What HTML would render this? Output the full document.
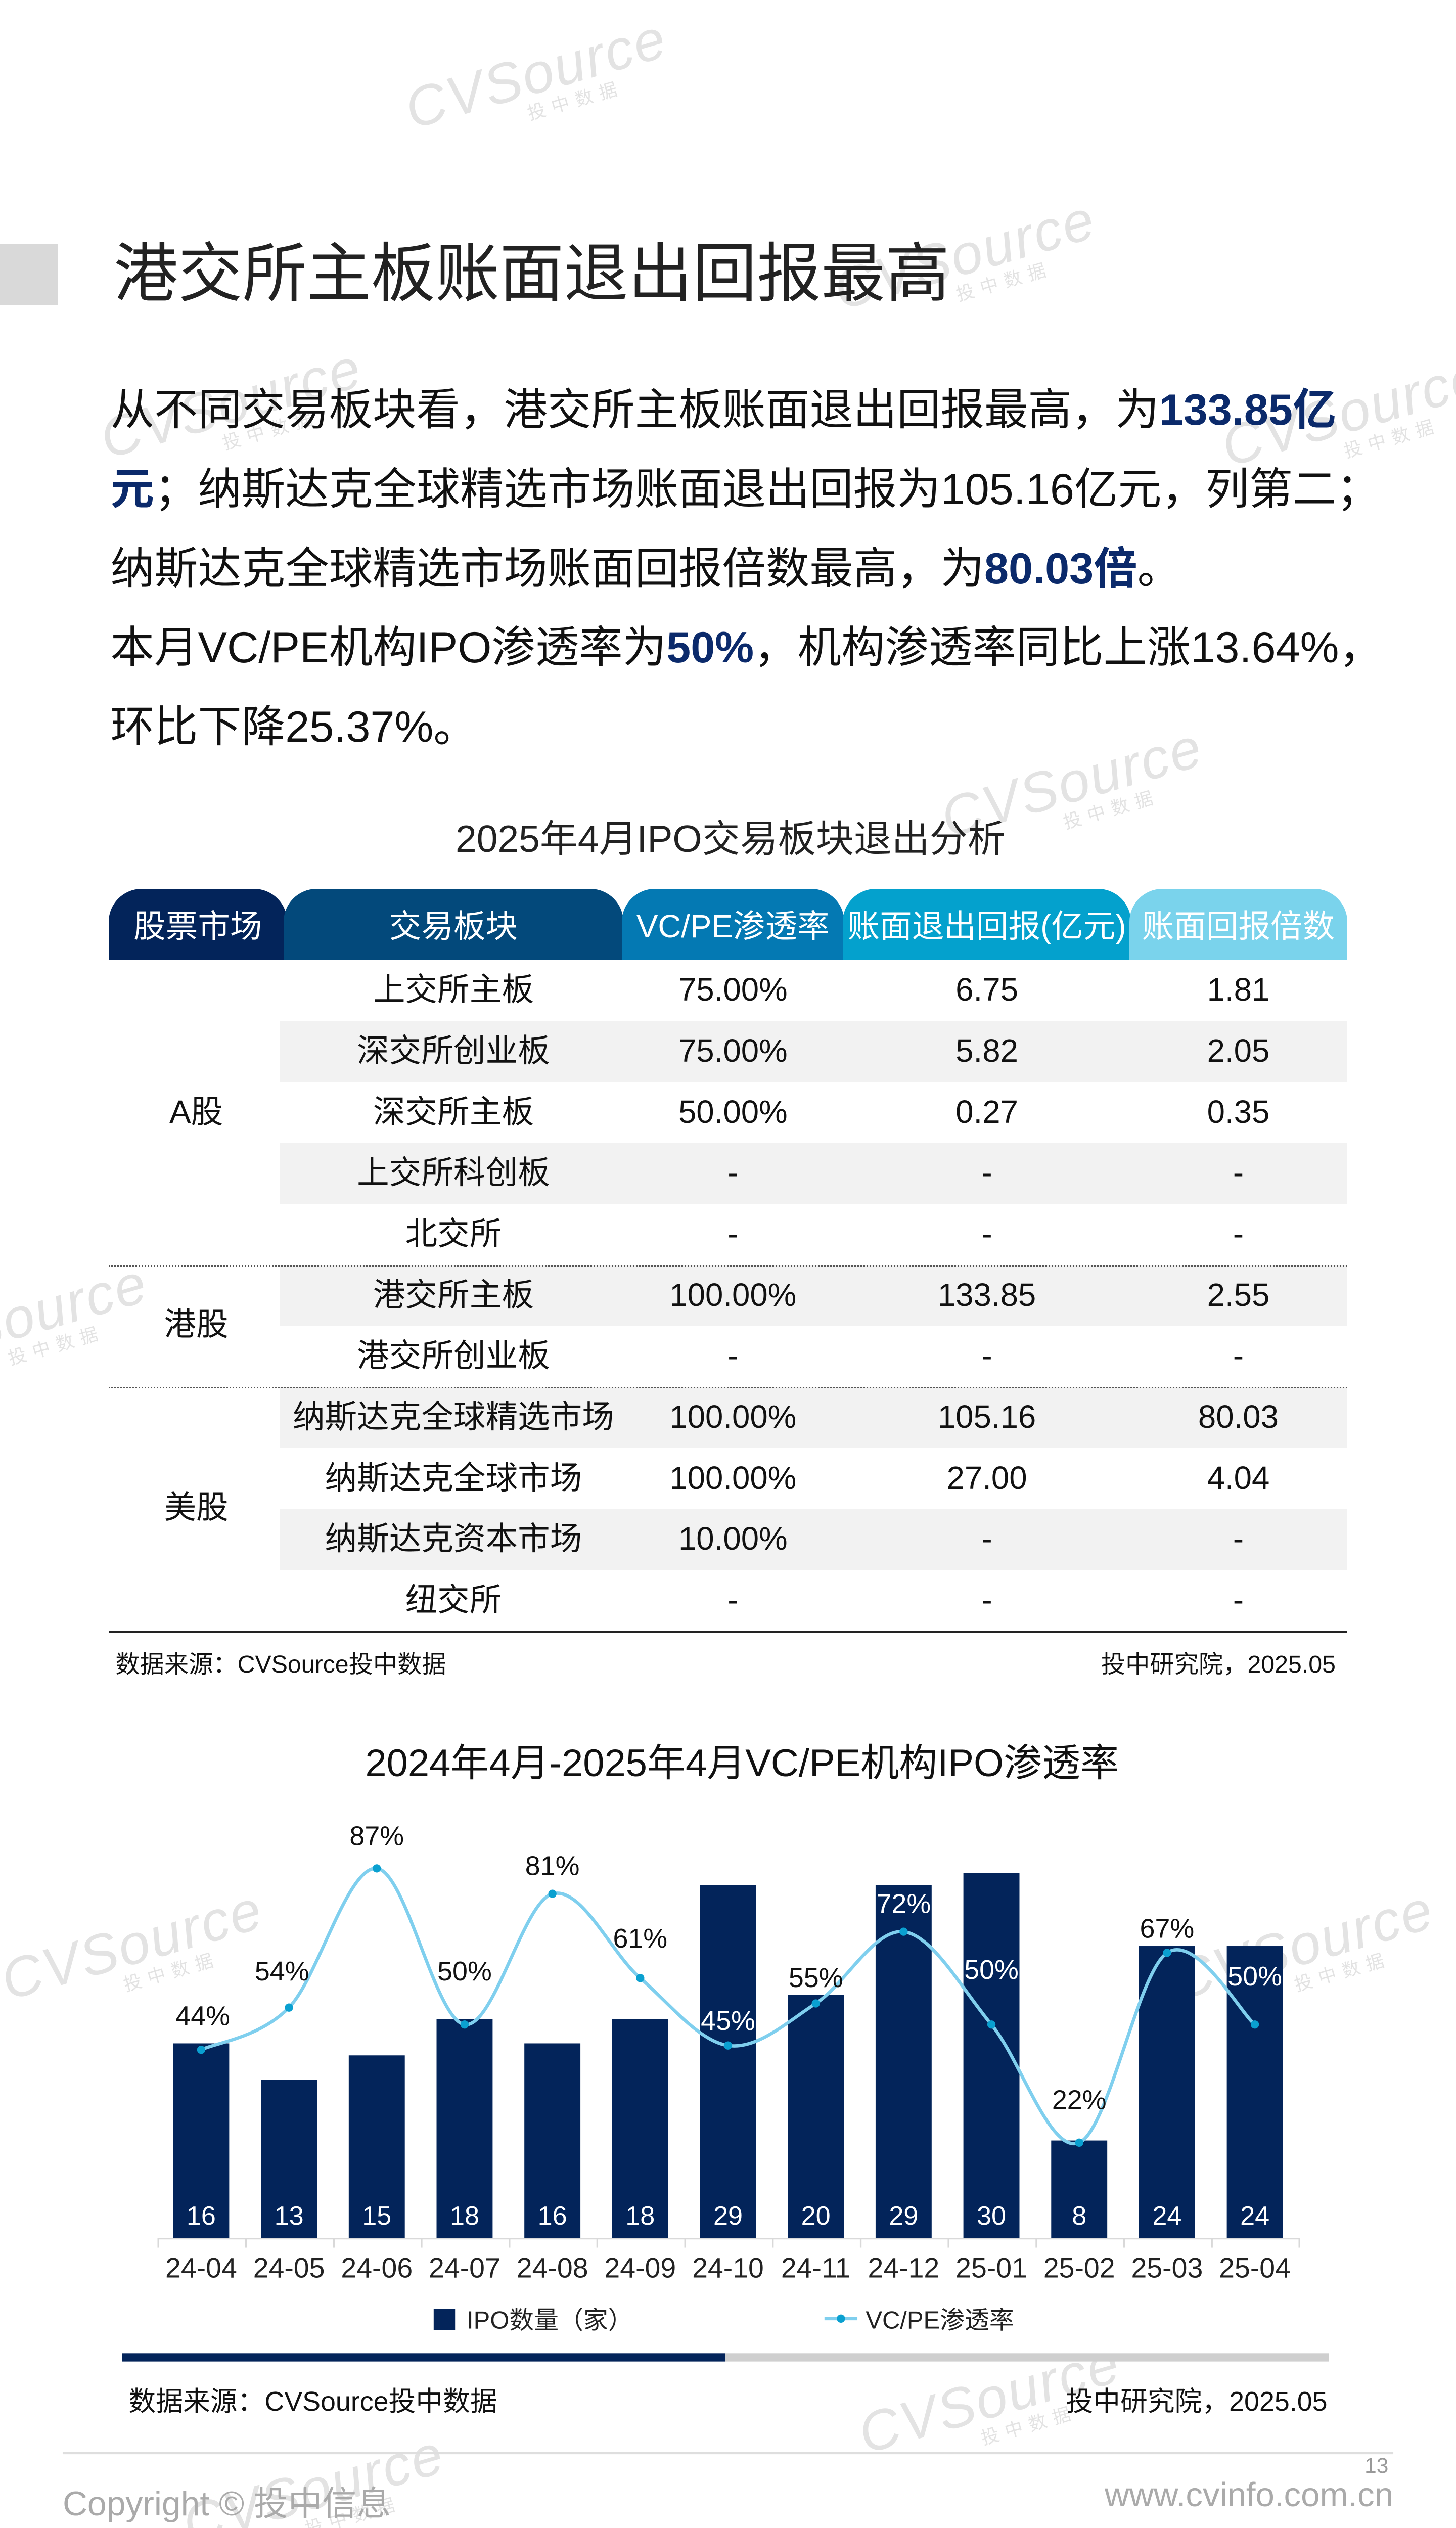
<!DOCTYPE html>
<html><head><meta charset="utf-8">
<style>
html{margin:0;padding:0;width:2880px;height:5118px;overflow:hidden;}
body{margin:0;padding:0;background:#fff;width:2880px;height:5118px;overflow:hidden;position:relative;}
#p{position:absolute;left:0;top:0;width:883px;height:1568px;overflow:hidden;zoom:3.26161;font-family:"Liberation Sans","Noto Sans CJK SC",sans-serif;color:#111;}
.a{position:absolute;white-space:nowrap;}
.hl{color:#0b2a6b;font-weight:bold;}
.para{font-size:26.5px;left:67px;}
.th{position:absolute;top:539px;height:43px;border-radius:20px 20px 0 0;color:#fff;font-size:19.5px;line-height:46px;text-align:center;white-space:nowrap;}
.row{position:absolute;left:170px;width:647px;height:37px;}
.sh{background:#f2f2f2;}
.c{position:absolute;font-size:19.5px;text-align:center;line-height:37px;height:37px;white-space:nowrap;}
.wm{position:absolute;color:#e3e3e3;font-size:34px;font-style:italic;transform:rotate(-16deg);white-space:nowrap;letter-spacing:1px;}
.wm span{display:block;font-size:11px;margin-left:70px;margin-top:-6px;font-style:normal;letter-spacing:4px;}
</style></head><body><div id="p">

<div class="wm" style="left:245px;top:25px;">CVSource<span>投中数据</span></div>
<div class="wm" style="left:505px;top:135px;">CVSource<span>投中数据</span></div>
<div class="wm" style="left:60px;top:225px;">CVSource<span>投中数据</span></div>
<div class="wm" style="left:740px;top:230px;">CVSource<span>投中数据</span></div>
<div class="wm" style="left:570px;top:455px;">CVSource<span>投中数据</span></div>
<div class="wm" style="left:-70px;top:780px;">CVSource<span>投中数据</span></div>
<div class="wm" style="left:0px;top:1160px;">CVSource<span>投中数据</span></div>
<div class="wm" style="left:710px;top:1160px;">CVSource<span>投中数据</span></div>
<div class="wm" style="left:520px;top:1435px;">CVSource<span>投中数据</span></div>
<div class="wm" style="left:110px;top:1490px;">CVSource<span>投中数据</span></div>

<div class="a" style="left:0;top:148px;width:35px;height:37px;background:#d9d9d9;"></div>
<div class="a" style="left:69px;top:141px;font-size:39px;color:#222;line-height:50px;">港交所主板账面退出回报最高</div>

<div class="a para" style="top:227px;">从不同交易板块看，港交所主板账面退出回报最高，为<span class="hl">133.85亿</span></div>
<div class="a para" style="top:275px;"><span class="hl">元</span>；纳斯达克全球精选市场账面退出回报为105.16亿元，列第二；</div>
<div class="a para" style="top:323px;">纳斯达克全球精选市场账面回报倍数最高，为<span class="hl">80.03倍</span>。</div>
<div class="a para" style="top:371px;">本月VC/PE机构IPO渗透率为<span class="hl">50%</span>，机构渗透率同比上涨13.64%，</div>
<div class="a para" style="top:419px;">环比下降25.37%。</div>

<div class="a" style="left:0;width:886px;text-align:center;top:490px;font-size:23px;color:#222;">2025年4月IPO交易板块退出分析</div>

<div class="th" style="left:66px;width:108px;background:#03245a;">股票市场</div>
<div class="th" style="left:172px;width:206px;background:#03497b;">交易板块</div>
<div class="th" style="left:377px;width:135px;background:#0479b3;">VC/PE渗透率</div>
<div class="th" style="left:511px;width:175px;background:#04a1cd;">账面退出回报(亿元)</div>
<div class="th" style="left:685px;width:132px;background:#7ad3ec;">账面回报倍数</div>

<div class="row sh" style="top:619px;"></div>
<div class="row sh" style="top:693px;"></div>
<div class="row sh" style="top:767px;"></div>
<div class="row sh" style="top:841px;"></div>
<div class="row sh" style="top:915px;"></div>
<div class="a" style="left:66px;top:767px;width:751px;border-top:1px dotted #555;"></div>
<div class="a" style="left:66px;top:841px;width:751px;border-top:1px dotted #555;"></div>
<div class="a" style="left:66px;top:989px;width:751px;border-top:1.5px solid #222;"></div>

<div class="c" style="left:66px;width:106px;top:656px;">A股</div>
<div class="c" style="left:66px;width:106px;top:785px;">港股</div>
<div class="c" style="left:66px;width:106px;top:896px;">美股</div>

<div class="c" style="left:172px;width:206px;top:582px;">上交所主板</div><div class="c" style="left:377px;width:135px;top:582px;">75.00%</div><div class="c" style="left:511px;width:175px;top:582px;">6.75</div><div class="c" style="left:685px;width:132px;top:582px;">1.81</div>
<div class="c" style="left:172px;width:206px;top:619px;">深交所创业板</div><div class="c" style="left:377px;width:135px;top:619px;">75.00%</div><div class="c" style="left:511px;width:175px;top:619px;">5.82</div><div class="c" style="left:685px;width:132px;top:619px;">2.05</div>
<div class="c" style="left:172px;width:206px;top:656px;">深交所主板</div><div class="c" style="left:377px;width:135px;top:656px;">50.00%</div><div class="c" style="left:511px;width:175px;top:656px;">0.27</div><div class="c" style="left:685px;width:132px;top:656px;">0.35</div>
<div class="c" style="left:172px;width:206px;top:693px;">上交所科创板</div><div class="c" style="left:377px;width:135px;top:693px;">-</div><div class="c" style="left:511px;width:175px;top:693px;">-</div><div class="c" style="left:685px;width:132px;top:693px;">-</div>
<div class="c" style="left:172px;width:206px;top:730px;">北交所</div><div class="c" style="left:377px;width:135px;top:730px;">-</div><div class="c" style="left:511px;width:175px;top:730px;">-</div><div class="c" style="left:685px;width:132px;top:730px;">-</div>
<div class="c" style="left:172px;width:206px;top:767px;">港交所主板</div><div class="c" style="left:377px;width:135px;top:767px;">100.00%</div><div class="c" style="left:511px;width:175px;top:767px;">133.85</div><div class="c" style="left:685px;width:132px;top:767px;">2.55</div>
<div class="c" style="left:172px;width:206px;top:804px;">港交所创业板</div><div class="c" style="left:377px;width:135px;top:804px;">-</div><div class="c" style="left:511px;width:175px;top:804px;">-</div><div class="c" style="left:685px;width:132px;top:804px;">-</div>
<div class="c" style="left:172px;width:206px;top:841px;">纳斯达克全球精选市场</div><div class="c" style="left:377px;width:135px;top:841px;">100.00%</div><div class="c" style="left:511px;width:175px;top:841px;">105.16</div><div class="c" style="left:685px;width:132px;top:841px;">80.03</div>
<div class="c" style="left:172px;width:206px;top:878px;">纳斯达克全球市场</div><div class="c" style="left:377px;width:135px;top:878px;">100.00%</div><div class="c" style="left:511px;width:175px;top:878px;">27.00</div><div class="c" style="left:685px;width:132px;top:878px;">4.04</div>
<div class="c" style="left:172px;width:206px;top:915px;">纳斯达克资本市场</div><div class="c" style="left:377px;width:135px;top:915px;">10.00%</div><div class="c" style="left:511px;width:175px;top:915px;">-</div><div class="c" style="left:685px;width:132px;top:915px;">-</div>
<div class="c" style="left:172px;width:206px;top:952px;">纽交所</div><div class="c" style="left:377px;width:135px;top:952px;">-</div><div class="c" style="left:511px;width:175px;top:952px;">-</div><div class="c" style="left:685px;width:132px;top:952px;">-</div>

<div class="a" style="left:70px;top:997px;font-size:14.8px;">数据来源：CVSource投中数据</div>
<div class="a" style="right:73px;top:997px;font-size:14.8px;">投中研究院，2025.05</div>

<div class="a" style="left:0;width:900px;text-align:center;top:1050px;font-size:23.3px;color:#111;">2024年4月-2025年4月VC/PE机构IPO渗透率</div>

<svg class="a" style="left:0;top:0;" width="883" height="1560" viewBox="0 0 883 1560" font-family="Liberation Sans, Noto Sans CJK SC, sans-serif">
<g fill="#03245a">
<rect x="105" y="1239.1" width="34" height="117.9"/>
<rect x="158.25" y="1261.2" width="34" height="95.8"/>
<rect x="211.5" y="1246.4" width="34" height="110.6"/>
<rect x="264.75" y="1224.3" width="34" height="132.7"/>
<rect x="318" y="1239.1" width="34" height="117.9"/>
<rect x="371.25" y="1224.3" width="34" height="132.7"/>
<rect x="424.5" y="1143.3" width="34" height="213.7"/>
<rect x="477.75" y="1209.6" width="34" height="147.4"/>
<rect x="531" y="1143.3" width="34" height="213.7"/>
<rect x="584.25" y="1135.9" width="34" height="221.1"/>
<rect x="637.5" y="1298" width="34" height="59"/>
<rect x="690.75" y="1180.1" width="34" height="176.9"/>
<rect x="744" y="1180.1" width="34" height="176.9"/>
</g>
<g fill="#fff" font-size="16" text-anchor="middle">
<text x="122" y="1349">16</text><text x="175.25" y="1349">13</text><text x="228.5" y="1349">15</text><text x="281.75" y="1349">18</text><text x="335" y="1349">16</text><text x="388.25" y="1349">18</text><text x="441.5" y="1349">29</text><text x="494.75" y="1349">20</text><text x="548" y="1349">29</text><text x="601.25" y="1349">30</text><text x="654.5" y="1349">8</text><text x="707.75" y="1349">24</text><text x="761" y="1349">24</text>
</g>
<line x1="96" y1="1357.5" x2="788" y2="1357.5" stroke="#d9d9d9" stroke-width="1"/>
<g stroke="#d9d9d9" stroke-width="1">
<line x1="96" y1="1357" x2="96" y2="1363"/><line x1="149.2" y1="1357" x2="149.2" y2="1363"/><line x1="202.5" y1="1357" x2="202.5" y2="1363"/><line x1="255.7" y1="1357" x2="255.7" y2="1363"/><line x1="309" y1="1357" x2="309" y2="1363"/><line x1="362.2" y1="1357" x2="362.2" y2="1363"/><line x1="415.5" y1="1357" x2="415.5" y2="1363"/><line x1="468.7" y1="1357" x2="468.7" y2="1363"/><line x1="522" y1="1357" x2="522" y2="1363"/><line x1="575.2" y1="1357" x2="575.2" y2="1363"/><line x1="628.5" y1="1357" x2="628.5" y2="1363"/><line x1="681.7" y1="1357" x2="681.7" y2="1363"/><line x1="735" y1="1357" x2="735" y2="1363"/><line x1="788" y1="1357" x2="788" y2="1363"/>
</g>
<g fill="#222" font-size="17" text-anchor="middle">
<text x="122" y="1381">24-04</text><text x="175.25" y="1381">24-05</text><text x="228.5" y="1381">24-06</text><text x="281.75" y="1381">24-07</text><text x="335" y="1381">24-08</text><text x="388.25" y="1381">24-09</text><text x="441.5" y="1381">24-10</text><text x="494.75" y="1381">24-11</text><text x="548" y="1381">24-12</text><text x="601.25" y="1381">25-01</text><text x="654.5" y="1381">25-02</text><text x="707.75" y="1381">25-03</text><text x="761" y="1381">25-04</text>
</g>
<path fill="none" stroke="#7fcfee" stroke-width="2" d="M122,1243 C130.9,1238.7 157.5,1235.7 175.25,1217.4 C193,1199.1 210.75,1131.3 228.5,1133 C246.25,1134.7 264,1225.1 281.75,1227.7 C299.5,1230.3 317.25,1153.1 335,1148.4 C352.75,1143.7 370.5,1184.2 388.25,1199.5 C406,1214.8 423.75,1237.8 441.5,1240.4 C459.25,1243 477,1226.4 494.75,1214.9 C512.5,1203.4 530.25,1169.3 548,1171.4 C565.75,1173.5 583.5,1206.4 601.25,1227.7 C619,1249 636.75,1306.6 654.5,1299.3 C672.25,1292 690,1196.1 707.75,1184.2 C725.5,1172.3 752.1,1220.45 761,1227.7"/>
<g fill="#0aa0d0">
<circle cx="122" cy="1243" r="2.5"/><circle cx="175.25" cy="1217.4" r="2.5"/><circle cx="228.5" cy="1133" r="2.5"/><circle cx="281.75" cy="1227.7" r="2.5"/><circle cx="335" cy="1148.4" r="2.5"/><circle cx="388.25" cy="1199.5" r="2.5"/><circle cx="441.5" cy="1240.4" r="2.5"/><circle cx="494.75" cy="1214.9" r="2.5"/><circle cx="548" cy="1171.4" r="2.5"/><circle cx="601.25" cy="1227.7" r="2.5"/><circle cx="654.5" cy="1299.3" r="2.5"/><circle cx="707.75" cy="1184.2" r="2.5"/><circle cx="761" cy="1227.7" r="2.5"/>
</g>
<g fill="#111" font-size="16.5" text-anchor="middle">
<text x="123" y="1228">44%</text><text x="171" y="1201">54%</text><text x="228.5" y="1119">87%</text><text x="281.75" y="1201">50%</text><text x="335" y="1137">81%</text><text x="388.25" y="1181">61%</text><text x="494.75" y="1205">55%</text><text x="654.5" y="1279">22%</text><text x="707.75" y="1175">67%</text>
</g>
<g fill="#fff" font-size="16.5" text-anchor="middle">
<text x="441.5" y="1231">45%</text><text x="548" y="1160">72%</text><text x="601.25" y="1200">50%</text><text x="761" y="1204">50%</text>
</g>
<rect x="263" y="1400" width="13" height="13" fill="#03245a"/>
<text x="283" y="1412" font-size="15" fill="#222">IPO数量（家）</text>
<line x1="500" y1="1406" x2="520" y2="1406" stroke="#7fcfee" stroke-width="2"/>
<circle cx="510" cy="1406" r="2.5" fill="#0aa0d0"/>
<text x="525" y="1412" font-size="15" fill="#222">VC/PE渗透率</text>
<rect x="74" y="1427" width="366" height="5" fill="#03245a"/>
<rect x="440" y="1427" width="366" height="5" fill="#cfcfcf"/>
<line x1="38" y1="1487.5" x2="845" y2="1487.5" stroke="#dedede" stroke-width="1.5"/>
</svg>

<div class="a" style="left:78px;top:1443px;font-size:16.5px;">数据来源：CVSource投中数据</div>
<div class="a" style="right:78px;top:1443px;font-size:16.5px;">投中研究院，2025.05</div>
<div class="a" style="right:41px;top:1488px;font-size:13px;color:#999;">13</div>
<div class="a" style="left:38px;top:1501px;font-size:20.8px;color:#aaa;">Copyright © 投中信息</div>
<div class="a" style="right:38px;top:1501px;font-size:20.6px;color:#aaa;">www.cvinfo.com.cn</div>
</div></body></html>
